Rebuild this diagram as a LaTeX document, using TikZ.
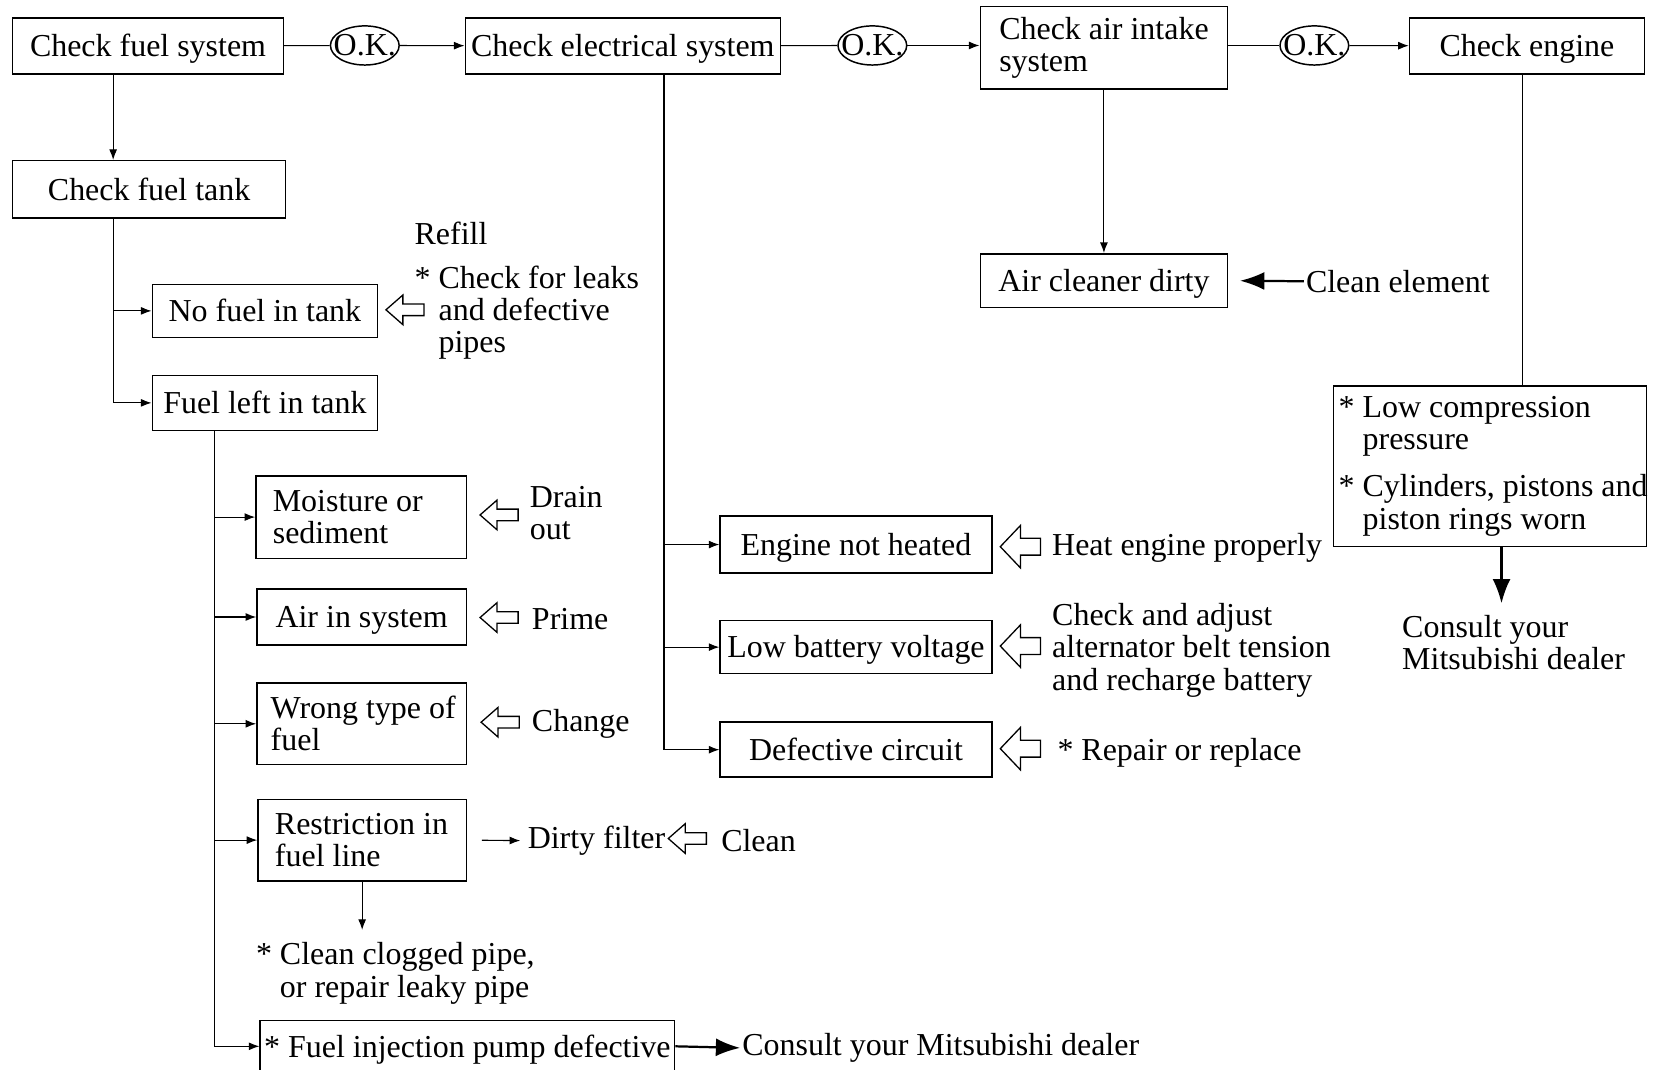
\documentclass[tikz,border=0pt]{standalone}
\usepackage{fontspec}
\setmainfont{Liberation Serif}
\usepackage{tikz}
\usetikzlibrary{arrows.meta,calc,shapes.geometric}

\begin{document}
\begin{tikzpicture}[>=Latex,x=0.02cm,y=-0.02cm,
  font=\fontsize{17.2}{17.3}\selectfont,
  box/.style={draw,line width=0.8pt,inner sep=0pt,text height=13.8pt,text depth=2.2pt},
  lbox/.style={draw,line width=0.8pt,align=flush left,inner ysep=0pt},
  okay/.style={draw,ellipse,line width=0.8pt,inner sep=0pt,minimum width=1.3cm,minimum height=0.74cm},
  note/.style={anchor=west,align=left,inner sep=1pt},
  line/.style={line width=0.6pt},
  arr/.style={line width=0.6pt,-{Latex[length=2mm,width=1.5mm]}},
  boldarr/.style={line width=1.2pt,-{Latex[length=4.6mm,width=3.4mm]}},
  pics/hollowarr/.style n args={4}{code={
    \draw[line width=0.7pt] (-#1/2,0) -- ++(#4,-#2/2) -- ++(0,#2/2-#3/2) -- (#1/2,-#3/2)
      -- (#1/2,#3/2) -- (-#1/2+#4,#3/2) -- ++(0,#2/2-#3/2) -- cycle;}}]
  \useasboundingbox (0,0) rectangle (1568,1011);

  % top row
  \node[box,minimum width=5.12cm,minimum height=1.06cm] (fuelsys) at (140,43.5) {Check fuel system};
  \node[okay] (ok1) at (345,43) {\makebox[0pt]{O.K.}};
  \node[box,minimum width=5.96cm,minimum height=1.06cm] (elec) at (589,43.5) {Check electrical system};
  \node[okay] (ok2) at (825,43) {\makebox[0pt]{O.K.}};
  \node[lbox,text width=3.96cm,inner xsep=0.36cm,minimum height=1.56cm] (air) at (1044,45) {\mbox{Check air intake}\\system};
  \node[okay] (ok3) at (1243,43) {\makebox[0pt]{O.K.}};
  \node[box,minimum width=4.44cm,minimum height=1.06cm] (engine) at (1444,43.5) {Check engine};

  \draw[line] (fuelsys) -- (ok1);
  \draw[arr] (ok1) -- (elec);
  \draw[line] (elec) -- (ok2);
  \draw[arr] (ok2.east) -- (ok2.east -| air.west);
  \draw[line] (air.east |- ok3) -- (ok3);
  \draw[arr] (ok3) -- (engine);

  % fuel system
  \coordinate (trunkA) at (107,0);
  \coordinate (trunkB) at (203,0);
  \node[box,minimum width=5.16cm,minimum height=1.08cm] (tank) at (141,179) {Check fuel tank};
  \node[box,minimum width=4.26cm,minimum height=1.0cm] (nofuel) at (250.5,294) {No fuel in tank};
  \node[box,minimum width=4.26cm,minimum height=1.04cm] (fuelleft) at (250.5,381) {Fuel left in tank};
  \node[note] (refill) at (390,221) {Refill};
  \node[note] (leaks) at (390,296) {* Check for leaks\\\hphantom{*\ }and defective\\\hphantom{*\ }pipes};
  \pic at (383,293) {hollowarr={36}{28}{11}{16}};

  \draw[arr] (fuelsys.south -| trunkA) -- (tank.north -| trunkA);
  \draw[arr] (tank.south -| trunkA) |- (fuelleft.west);
  \draw[arr] (trunkA |- nofuel.west) -- (nofuel.west);

  \node[lbox,text width=3.34cm,inner xsep=0.32cm,minimum height=1.56cm] (moist) at (341.5,489) {\mbox{Moisture or}\\sediment};
  \node[box,minimum width=3.96cm,minimum height=1.06cm] (airsys) at (342,583.5) {Air in system};
  \node[lbox,text width=3.44cm,inner xsep=0.26cm,minimum height=1.54cm] (wrong) at (342,684.5) {\mbox{Wrong type of}\\fuel};
  \node[lbox,text width=3.30cm,inner xsep=0.32cm,minimum height=1.54cm] (restr) at (342.5,794.5) {\mbox{Restriction in}\\fuel line};
  \node[box,minimum width=7.84cm,minimum height=0.98cm] (pump) at (442,989.5) {* Fuel injection pump defective};

  \pic at (472,487) {hollowarr={36}{28}{11}{16}};
  \node[note] (drain) at (499,485.5) {Drain\\out};
  \pic at (472,584) {hollowarr={36}{28}{11}{16}};
  \node[note] (prime) at (501,585) {Prime};
  \pic at (473,683) {hollowarr={36}{28}{11}{16}};
  \node[note] (change) at (501,685) {Change};
  \node[note] (dirty) at (497,795) {Dirty filter};
  \pic at (650,793) {hollowarr={36}{28}{11}{16}};
  \node[note] (clean) at (680,795) {Clean};
  \node[note] (clogged) at (240,920.5) {* Clean clogged pipe,\\\hphantom{*\ }or repair leaky pipe};
  \node[note] (consulta) at (700,991) {Consult your Mitsubishi dealer};

  \draw[arr] (fuelleft.south -| trunkB) |- (pump.west);
  \foreach \n in {moist,airsys,wrong,restr}
    \draw[arr] (trunkB |- \n.west) -- (\n.west);
  \draw[arr,shorten <=0.28cm,shorten >=0.1cm] (restr.east) -- (dirty.west);
  \draw[arr,shorten >=0.2cm] (restr.south) -- (restr.south |- clogged.north);
  \draw[boldarr] (pump.east) -- (consulta.west);

  % electrical system
  \coordinate (trunkC) at (628,0);
  \node[box,minimum width=5.14cm,minimum height=1.08cm] (notheat) at (809.5,515) {Engine not heated};
  \node[box,minimum width=5.14cm,minimum height=1.0cm] (battery) at (809.5,612) {Low battery voltage};
  \node[box,minimum width=5.14cm,minimum height=1.04cm] (circuit) at (809.5,709) {Defective circuit};
  \pic at (965,517) {hollowarr={38}{40}{16}{19}};
  \node[note] (heat) at (993,518) {Heat engine properly};
  \pic at (965,611) {hollowarr={38}{40}{16}{19}};
  \node[note] (adjust) at (993,615) {Check and adjust\\alternator belt tension\\and recharge battery};
  \pic at (965,708) {hollowarr={38}{40}{16}{19}};
  \node[note] (repair) at (998,712) {* Repair or replace};

  \draw[arr] (elec.south -| trunkC) |- (circuit.west);
  \foreach \n in {notheat,battery}
    \draw[arr] (trunkC |- \n.west) -- (\n.west);

  % air intake and engine
  \coordinate (trunkD) at (1440,0);
  \node[box,minimum width=4.68cm,minimum height=1.02cm] (cleaner) at (1044,265.5) {Air cleaner dirty};
  \node[note] (cleanel) at (1233,266) {Clean element};
  \node[lbox,text width=5.72cm,inner xsep=0.1cm,minimum height=3.04cm] (comp) at (1409,441)
    {\mbox{* Low compression}\\\hphantom{*\ }pressure\\[0.28cm]\mbox{* Cylinders, pistons and}\\\hphantom{*\ }\mbox{piston rings worn}};
  \node[note] (consultb) at (1324,607.5) {Consult your\\Mitsubishi dealer};

  \draw[arr] (air.south) -- (cleaner.north);
  \draw[boldarr] (cleanel.west) -- ([xshift=0.22cm]cleaner.east);
  \draw[line] (engine.south -| trunkD) -- (comp.north -| trunkD);
  \draw[boldarr,shorten >=0.18cm] ([xshift=0.22cm]comp.south) -- ([xshift=0.22cm]comp.south |- consultb.north);
\end{tikzpicture}
\end{document}
